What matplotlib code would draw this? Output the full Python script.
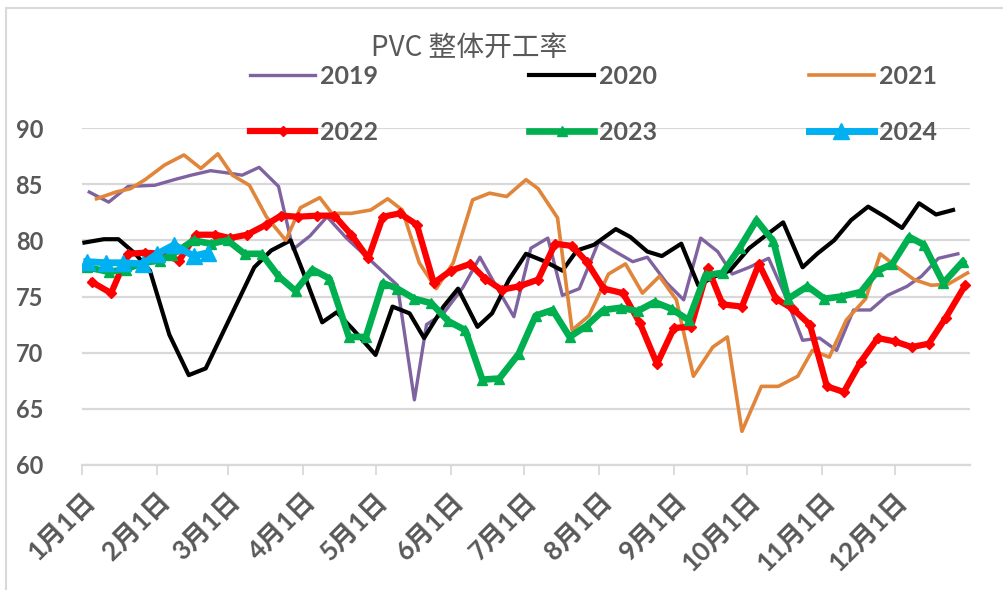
import matplotlib
matplotlib.use("Agg")
import matplotlib.pyplot as plt
import pandas as pd
from matplotlib.patches import Rectangle

# day offsets from Jan 1 (weekly data) and operating rate (%)
days_2019 = [3, 11, 19, 30, 38, 45, 53, 60, 66, 73, 81, 87, 94, 101, 109, 119, 130, 137, 142, 149,
             157, 164, 171, 178, 185, 192, 198, 205, 213, 219, 227, 233, 241, 248, 255, 262, 268, 275,
             283, 290, 297, 304, 311, 318, 325, 332, 340, 346, 353, 361]
vals_2019 = [84.3, 83.4, 84.8, 84.9, 85.4, 85.8, 86.2, 86.0, 85.8, 86.5, 84.8, 79.2, 80.4, 82.1, 80.2,
             78.2, 76.0, 65.8, 72.5, 73.5, 75.8, 78.5, 75.8, 73.2, 79.3, 80.2, 75.1, 75.7, 79.9, 79.1,
             78.1, 78.5, 76.2, 74.7, 80.2, 79.0, 77.0, 77.6, 78.4, 75.0, 71.1, 71.3, 70.2, 73.8, 73.8,
             75.1, 75.9, 76.8, 78.4, 78.8]

days_2020 = [1, 9, 15, 22, 28, 36, 44, 51, 71, 78, 86, 92, 99, 105, 112, 121, 128, 135, 141, 149,
             155, 163, 169, 176, 183, 191, 198, 204, 211, 220, 226, 233, 239, 247, 254, 261, 267, 275,
             281, 289, 297, 303, 310, 317, 324, 331, 338, 345, 352, 359]
vals_2020 = [79.8, 80.1, 80.1, 78.8, 77.3, 71.6, 68.0, 68.6, 77.6, 79.1, 80.0, 76.7, 72.7, 73.6, 72.0,
             69.8, 74.1, 73.5, 71.3, 74.1, 75.7, 72.3, 73.5, 76.5, 78.8, 78.1, 77.3, 79.1, 79.6, 81.0,
             80.3, 79.0, 78.6, 79.7, 76.0, 76.8, 77.3, 79.3, 80.3, 81.6, 77.6, 78.8, 80.0, 81.8, 83.0,
             82.1, 81.1, 83.3, 82.3, 82.7]

days_2021 = [6, 14, 20, 26, 34, 42, 49, 56, 62, 69, 76, 84, 90, 98, 103, 111, 119, 126, 132, 139,
             146, 153, 161, 168, 175, 183, 188, 196, 202, 209, 217, 224, 231, 238, 245, 252, 260, 266,
             272, 280, 287, 295, 301, 308, 315, 323, 329, 336, 343, 350, 357, 365]
vals_2021 = [83.7, 84.3, 84.6, 85.4, 86.7, 87.6, 86.4, 87.7, 85.8, 84.9, 82.1, 80.0, 82.9, 83.8, 82.4,
             82.4, 82.7, 83.7, 82.7, 78.0, 75.7, 78.0, 83.6, 84.2, 83.9, 85.4, 84.6, 82.0, 72.0, 73.3,
             77.0, 77.9, 75.3, 76.8, 74.7, 67.9, 70.5, 71.4, 63.0, 67.0, 67.0, 67.9, 70.2, 69.6, 72.9,
             74.8, 78.8, 77.6, 76.5, 76.0, 76.1, 77.1]

days_2022 = [4, 12, 19, 26, 33, 40, 47, 55, 61, 68, 76, 82, 89, 97, 104, 111, 118, 124, 131, 138,
             145, 152, 160, 166, 173, 180, 188, 195, 202, 208, 215, 223, 230, 237, 244, 251, 258, 264,
             272, 279, 286, 293, 300, 307, 314, 321, 328, 335, 342, 349, 356, 364]
vals_2022 = [76.3, 75.3, 78.8, 78.9, 78.8, 78.2, 80.5, 80.5, 80.2, 80.5, 81.4, 82.2, 82.1, 82.2, 82.2,
             80.5, 78.4, 82.1, 82.4, 81.4, 76.2, 77.3, 77.9, 76.6, 75.6, 75.9, 76.5, 79.7, 79.5, 78.1,
             75.7, 75.3, 72.6, 69.0, 72.2, 72.3, 77.5, 74.3, 74.1, 77.9, 74.8, 73.9, 72.5, 67.0, 66.5,
             69.2, 71.3, 71.0, 70.5, 70.8, 73.1, 76.0]

days_2023 = [2, 11, 18, 25, 32, 37, 46, 53, 60, 67, 74, 81, 88, 95, 102, 110, 117, 124, 130, 137,
             144, 151, 158, 165, 172, 180, 187, 194, 201, 208, 215, 222, 229, 236, 243, 250, 257, 264,
             271, 278, 285, 291, 299, 306, 313, 321, 328, 334, 341, 347, 355, 363]
vals_2023 = [77.6, 77.2, 77.4, 78.0, 78.2, 78.7, 80.0, 79.7, 80.0, 78.8, 78.8, 76.8, 75.5, 77.4, 76.6,
             71.4, 71.4, 76.2, 75.7, 74.8, 74.4, 72.8, 72.0, 67.6, 67.7, 69.9, 73.3, 73.8, 71.4, 72.4,
             73.8, 74.0, 73.7, 74.5, 73.9, 72.9, 76.9, 77.1, 79.3, 81.8, 79.9, 74.8, 75.9, 74.8, 75.0,
             75.4, 77.3, 77.9, 80.3, 79.6, 76.2, 78.1]

days_2024 = [2, 10, 17, 25, 31, 38, 46, 52]
vals_2024 = [78.1, 78.0, 78.0, 77.9, 78.8, 79.6, 78.6, 78.9]

TEXT = "#595959"
GRID = "#D9D9D9"

fig = plt.figure(figsize=(10.04, 5.9), dpi=100)
ax = fig.add_axes([82 / 1004, 1 - 465 / 590, 888 / 1004, 337 / 590])

# chart area border (only left/top edges visible)
fig.patches.append(Rectangle((6 / 1004, -0.1), 1.1, 1 - 8 / 590 + 0.1, transform=fig.transFigure,
                             fill=False, edgecolor=GRID, linewidth=1.5))

l19, = ax.plot(days_2019, vals_2019, color="#7F63A1", lw=2.4, label="2019")
l20, = ax.plot(days_2020, vals_2020, color="black", lw=3.0, label="2020")
l21, = ax.plot(days_2021, vals_2021, color="#E0853A", lw=2.6, label="2021")
l22, = ax.plot(days_2022, vals_2022, color="#FF0000", lw=4.5, marker="D", ms=5.5, label="2022")
l23, = ax.plot(days_2023, vals_2023, color="#00B050", lw=4.8, marker="^", ms=7, label="2023")
l24, = ax.plot(days_2024, vals_2024, color="#00B0F0", lw=5.0, marker="^", ms=11, label="2024")

ax.set_ylim(60, 90)
ax.set_yticks(range(60, 91, 5))
ax.set_xlim(0, 366)

month_starts = pd.date_range("2020-01-01", periods=12, freq="MS")
ticks = [(d - month_starts[0]).days for d in month_starts]
ax.set_xticks(ticks)
ax.set_xticklabels([f"{d.month}月1日" for d in month_starts], rotation=45, ha="right", va="top",
                   rotation_mode="anchor", family=["Lato", "Noto Sans CJK SC"],
                   fontweight="bold", fontsize=19, color=TEXT)
for lab in ax.get_yticklabels():
    lab.set_family(["Lato", "DejaVu Sans"])
    lab.set_fontweight("bold")
    lab.set_fontsize(17)
    lab.set_color(TEXT)

ax.grid(axis="y", color=GRID, lw=1.6)
ax.set_axisbelow(True)
for side in ["top", "right", "left"]:
    ax.spines[side].set_visible(False)
ax.spines["bottom"].set_color(GRID)
ax.spines["bottom"].set_linewidth(1.6)
ax.tick_params(axis="y", length=0, pad=28)
ax.tick_params(axis="x", length=7, width=1.3, color=GRID, pad=10)

fig.text(469 / 1004, 1 - 48 / 590, "PVC 整体开工率", ha="center", va="center", fontsize=20,
         color=TEXT, family=["Noto Sans CJK SC", "DejaVu Sans"])

handles = [l19, l22, l20, l23, l21, l24]
leg = fig.legend(handles=handles, labels=[h.get_label() for h in handles], ncol=3,
                 loc="upper left", bbox_to_anchor=(250 / 1004, 1 - 65 / 590), frameon=False,
                 prop={"family": ["Lato", "DejaVu Sans"], "weight": "bold", "size": 18},
                 handlelength=2.6, handletextpad=0.2, columnspacing=6.05, labelspacing=1.3,
                 borderpad=0, borderaxespad=0)
for t in leg.get_texts():
    t.set_color(TEXT)

fig.savefig("out.png", dpi=100)
